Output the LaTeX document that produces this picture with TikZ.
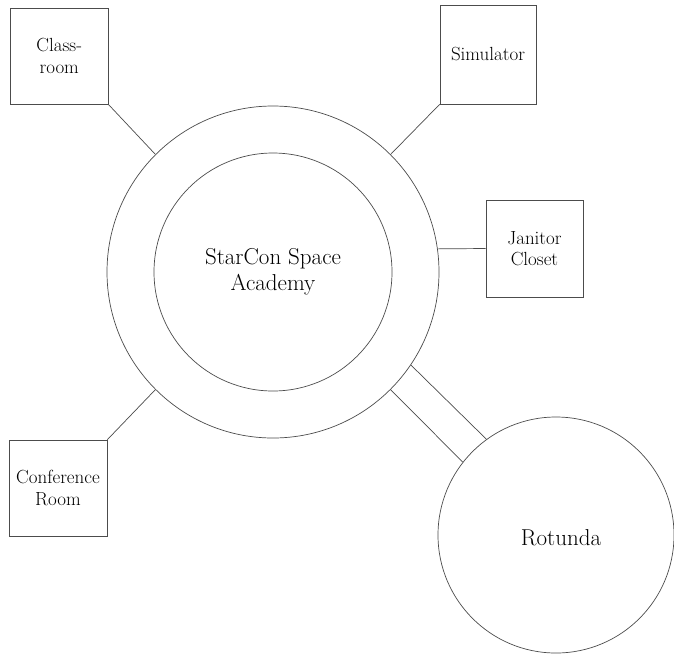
\documentclass[tikz,border=0pt]{standalone}
\begin{document}
\begin{tikzpicture}[x=1pt,y=-1pt,
  ln/.style={draw=black!70,line width=0.7pt},
  room/.style={ln,rectangle,inner sep=0pt,align=center,font=\fontsize{19}{21.5}\selectfont},
  big/.style={ln,circle,inner sep=0pt,align=center,font=\fontsize{23}{26}\selectfont}]
\useasboundingbox (0,0) rectangle (674,657);
\fill[white] (0,0) rectangle (674,657);
% central rings
\node[big,minimum size=332pt] (ring) at (273,272) {};
\node[big,minimum size=238pt] (core) at (273,272) {StarCon Space\\Academy};
% rooms
\node[room,minimum width=97.5pt,minimum height=96pt] (class) at (59.25,56) {Class-\\room};
\node[room,minimum width=96pt,minimum height=99pt] (sim) at (488,54.5) {Simulator};
\node[room,minimum width=97pt,minimum height=97pt] (jan) at (534.5,248.5) {Janitor\\Closet};
\node[room,minimum width=98pt,minimum height=96pt] (conf) at (58,488) {Conference\\Room};
% rotunda
\node[big,minimum size=236pt] (rot) at (556,535) {};
\node[font=\fontsize{23}{26}\selectfont,inner sep=0pt] (rotlabel) at (561,538) {Rotunda};
% connectors
\draw[ln] (class.south east) -- (ring.135);
\draw[ln] (sim.south west) -- (ring.45);
\draw[ln] (jan.west) -- (ring.8.3);
\draw[ln] (conf.north east) -- (ring.225);
% corridor
\draw[ln] (ring.-34.1) -- (rot.126.8);
\draw[ln] (ring.-45.5) -- (rot.142.9);
\end{tikzpicture}
\end{document}
